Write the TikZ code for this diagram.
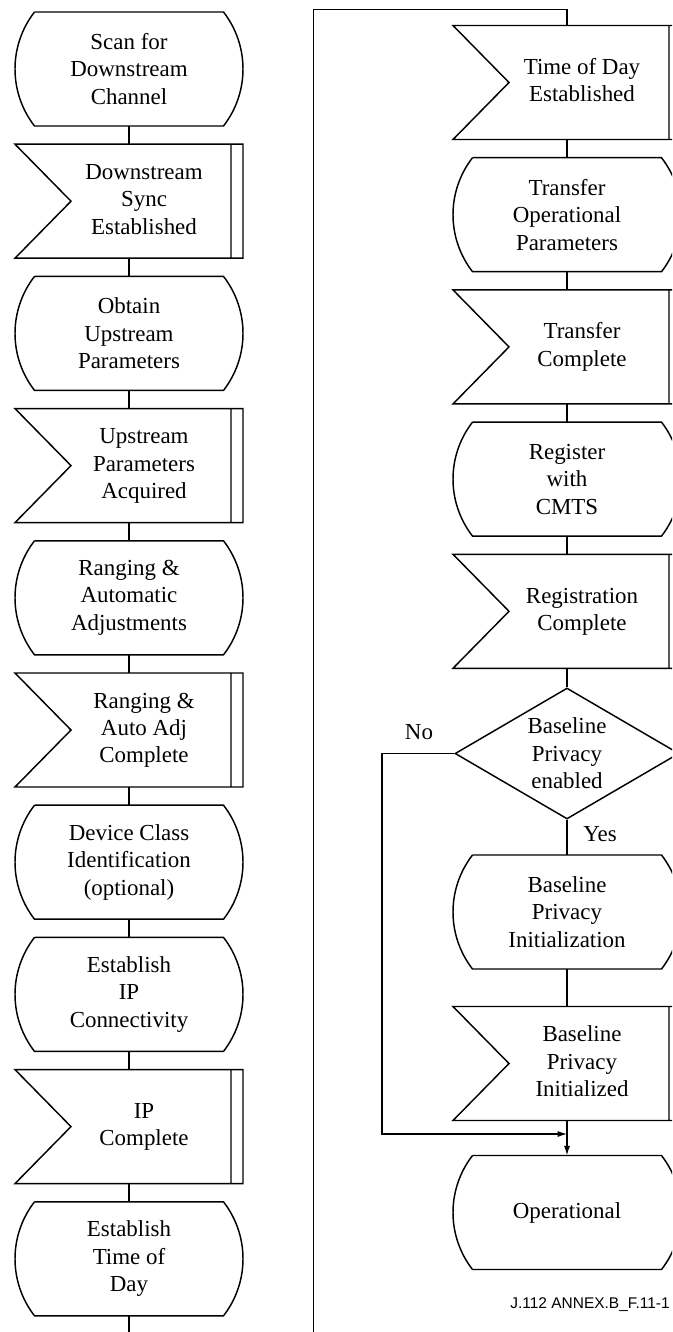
\documentclass[tikz,border=0pt]{standalone}
\usepackage{fontspec}
\setmainfont{Liberation Serif}
\newfontfamily\figsans{Liberation Sans}
\usetikzlibrary{arrows.meta,shapes.geometric}

% text of a signal box sits right of the notch
\newcommand{\siglines}[1]{\hspace*{22.5pt}\begin{tabular}{@{}c@{}}#1\end{tabular}}

\tikzset{
  outline/.style={line width=1.1pt, line join=miter},
  conn/.style={line width=0.8pt},
  boxfont/.style={font=\fontsize{17.2}{20.6}\selectfont},
  % process step: flat top and bottom, bulging sides
  proc/.style={boxfont, align=center, minimum width=171pt,
    minimum height=85.5pt, inner sep=0pt,
    append after command={\pgfextra{
      \draw[outline, shift={(\tikzlastnode.center)}]
        (-94.5,-57) -- (94.5,-57)
        .. controls +(26,33.6) and +(26,-33.6) .. (94.5,57)
        -- (-94.5,57)
        .. controls +(-26,-33.6) and +(-26,33.6) .. (-94.5,-57);}}},
  % received signal: notch on the left, double bar on the right
  sig/.style={boxfont, minimum width=171pt, minimum height=85.5pt,
    inner sep=0pt,
    append after command={\pgfextra{
      \draw[outline, shift={(\tikzlastnode.center)}]
        (-114,-57) -- (114,-57) -- (114,57) -- (-114,57) -- (-58,0)
        -- cycle
        (102,-57) -- (102,57);}}},
  dec/.style={boxfont, align=center, diamond, aspect=1.71, draw, outline,
    inner sep=0pt, minimum width=168pt, minimum height=98.25pt},
  lbl/.style={boxfont, inner sep=0pt}
}

\begin{document}
\begin{tikzpicture}[x=0.75pt, y=-0.75pt, >={Latex[length=7pt,width=4.5pt]}]

  % ------------------ Frame ------------------
  \path[use as bounding box, clip] (0,0) rectangle (672,1332);

  \def\colL{129}
  \def\colR{567}

  % ------------------ Left column ------------------
  \node[proc] (scan)   at (\colL,69)     {Scan for\\Downstream\\Channel};
  \node[sig]  (dsync)  at (\colL,201.2)  {\siglines{Downstream\\Sync\\Established}};
  \node[proc] (obtain) at (\colL,333.4)  {Obtain\\Upstream\\Parameters};
  \node[sig]  (usacq)  at (\colL,465.6)  {\siglines{Upstream\\Parameters\\Acquired}};
  \node[proc] (rng)    at (\colL,597.8)  {Ranging \&\\Automatic\\Adjustments};
  \node[sig]  (rngok)  at (\colL,730)    {\siglines{Ranging \&\\Auto Adj\\Complete}};
  \node[proc] (devcls) at (\colL,862.2)  {Device Class\\Identification\\(optional)};
  \node[proc] (ipconn) at (\colL,994.4)  {Establish\\IP\\Connectivity};
  \node[sig]  (ipok)   at (\colL,1126.6) {\siglines{IP\\Complete}};
  \node[proc] (tod)    at (\colL,1258.8) {Establish\\Time of\\Day};

  % ------------------ Right column ------------------
  \node[sig]  (todok)  at (\colR,82.5)   {\siglines{Time of Day\\Established}};
  \node[proc] (xfer)   at (\colR,214.7)  {Transfer\\Operational\\Parameters};
  \node[sig]  (xferok) at (\colR,346.9)  {\siglines{Transfer\\Complete}};
  \node[proc] (reg)    at (\colR,479.1)  {Register\\with\\CMTS};
  \node[sig]  (regok)  at (\colR,611.3)  {\siglines{Registration\\Complete}};
  \node[dec]  (bpen)   at (\colR,753.5)  {Baseline\\Privacy\\enabled};
  \node[proc] (bpinit) at (\colR,912)    {Baseline\\Privacy\\Initialization};
  \node[sig]  (bpok)   at (\colR,1063.5) {\siglines{Baseline\\Privacy\\Initialized}};
  \node[proc] (oper)   at (\colR,1212.5) {Operational};

  % ------------------ Helper coordinates ------------------
  \coordinate (loopL) at (\colL,1332);
  \coordinate (loopR) at (313.5,1332);
  \coordinate (loopT) at (313.5,9.5);
  \coordinate (nobend) at (382,753.5);
  \coordinate (merge) at (\colR,1134);

  % ------------------ Connectors ------------------
  \draw[conn] (scan) -- (dsync);
  \draw[conn] (dsync) -- (obtain);
  \draw[conn] (obtain) -- (usacq);
  \draw[conn] (usacq) -- (rng);
  \draw[conn] (rng) -- (rngok);
  \draw[conn] (rngok) -- (devcls);
  \draw[conn] (devcls) -- (ipconn);
  \draw[conn] (ipconn) -- (ipok);
  \draw[conn] (ipok) -- (tod);
  \draw[conn] (tod) -- (loopL);

  \draw[conn] (loopR) -- (loopT) -| (todok);
  \draw[conn] (todok) -- (xfer);
  \draw[conn] (xfer) -- (xferok);
  \draw[conn] (xferok) -- (reg);
  \draw[conn] (reg) -- (regok);
  \draw[conn] (regok) -- (bpen);
  \draw[conn] (bpen) -- (bpinit);
  \draw[conn] (bpinit) -- (bpok);
  \draw[conn,->] (bpok) -- (oper);
  \draw[conn,->] (bpen.west) -- (nobend) |- (merge);

  % ------------------ Labels ------------------
  \node[lbl] (nolbl)  at (419,732)   {No};
  \node[lbl] (yeslbl) at (600,834.5) {Yes};
  \node[anchor=east, inner sep=0pt,
    font=\figsans\fontsize{11.6}{13}\selectfont] (figid) at (670,1305)
    {J.112 ANNEX.B\_F.11-1};

\end{tikzpicture}
\end{document}
